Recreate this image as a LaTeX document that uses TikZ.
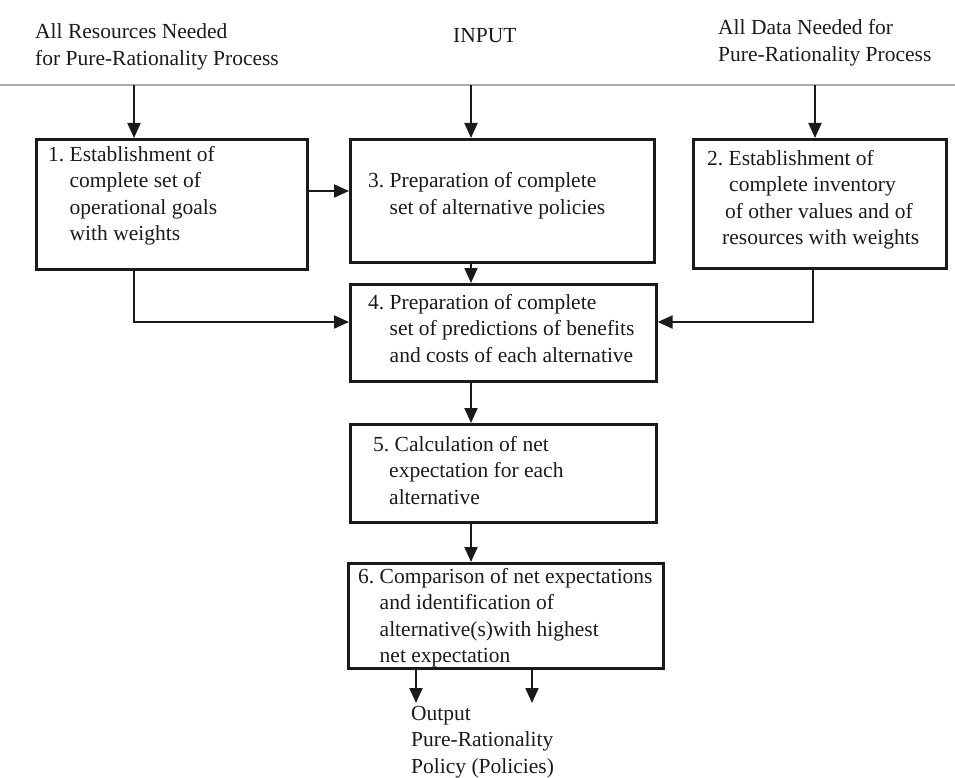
\documentclass[tikz,border=0pt]{standalone}
\usepackage{fontspec}
\setmainfont{Liberation Serif}
\usetikzlibrary{arrows.meta}
\definecolor{ink}{HTML}{1A1A1A}
\frenchspacing
\begin{document}
\begin{tikzpicture}[x=1pt,y=-1pt,
  every node/.style={font=\fontsize{21.5}{26.5}\selectfont, text=ink},
  stepbox/.style={draw=ink, line width=2.6pt, inner sep=0pt, anchor=north west},
  label/.style={anchor=base west, inner sep=0pt, align=left},
  flow/.style={draw=ink, line width=2pt, -{Triangle[length=15pt,width=13pt]}},
  rule/.style={draw=gray!65, line width=1.3pt}]
\useasboundingbox (0,0) rectangle (955,778);

% headings above the input rule (each placed by its last baseline)
\node[label] (res) at (35,65.5) {All Resources Needed\\for Pure-Rationality Process};
\node[label] (inp) at (453,43) {INPUT};
\node[label] (dat) at (718,61.5) {All Data Needed for\\Pure-Rationality Process};

% input rule with the three feed points
\coordinate (rl) at (0,85);
\coordinate (rr) at (955,85);
\draw[rule] (rl) -- (rr);
\coordinate (f1) at (134,85);
\coordinate (f3) at (471,85);
\coordinate (f2) at (815,85);

% process boxes
\node[stepbox, minimum width=271pt, minimum height=130pt] (b1) at (35,138) {};
\node[stepbox, minimum width=304pt, minimum height=123pt] (b3) at (349,138) {};
\node[stepbox, minimum width=253pt, minimum height=129pt] (b2) at (692,138) {};
\node[stepbox, minimum width=306pt, minimum height=97pt]  (b4) at (349,283) {};
\node[stepbox, minimum width=306pt, minimum height=98pt]  (b5) at (349,423) {};
\node[stepbox, minimum width=315pt, minimum height=105pt] (b6) at (347,562) {};

% box texts (each placed by its last baseline)
\node[label] (t1) at (48,240.5) {1. Establishment of\\\hphantom{1. }complete set of\\\hphantom{1. }operational goals\\\hphantom{1. }with weights};
\node[label] (t3) at (368,214.5) {3. Preparation of complete\\\hphantom{3. }set of alternative policies};
\node[label] (t2) at (707,244.5) {2. Establishment of\\\hspace*{22pt}complete inventory\\\hspace*{18pt}of other values and of\\\hspace*{15pt}resources with weights};
\node[label] (t4) at (368,362) {4. Preparation of complete\\\hphantom{4. }set of predictions of benefits\\\hphantom{4. }and costs of each alternative};
\node[label] (t5) at (373,504) {5. Calculation of net\\\hspace*{16pt}expectation for each\\\hspace*{16pt}alternative};
\node[label] (t6) at (358,662.5) {6. Comparison of net expectations\\\hphantom{6. }and identification of\\\hphantom{6. }alternative(s)with highest\\\hphantom{6. }net expectation};
\node[label] (out) at (411,773) {Output\\Pure-Rationality\\Policy (Policies)};

% connectors
\draw[flow] (f1) -- (f1 |- b1.north);
\draw[flow] (f3) -- (f3 |- b3.north);
\draw[flow] (f2) -- (f2 |- b2.north);
\draw[flow] (b1.east |- 0,191) -- (b3.west |- 0,191);
\draw[flow] (b3.south -| f3) -- (b4.north -| f3);
\draw[flow] (b1.south -| f1) |- (b4.west |- 0,322);
\draw[flow] (b2.south -| 813,0) |- (b4.east |- 0,322);
\draw[flow] (b4.south -| f3) -- (b5.north -| f3);
\draw[flow] (b5.south -| f3) -- (b6.north -| f3);
\coordinate (o1) at (416,703);
\coordinate (o2) at (532,703);
\draw[flow] (b6.south -| o1) -- (o1);
\draw[flow] (b6.south -| o2) -- (o2);
\end{tikzpicture}
\end{document}
